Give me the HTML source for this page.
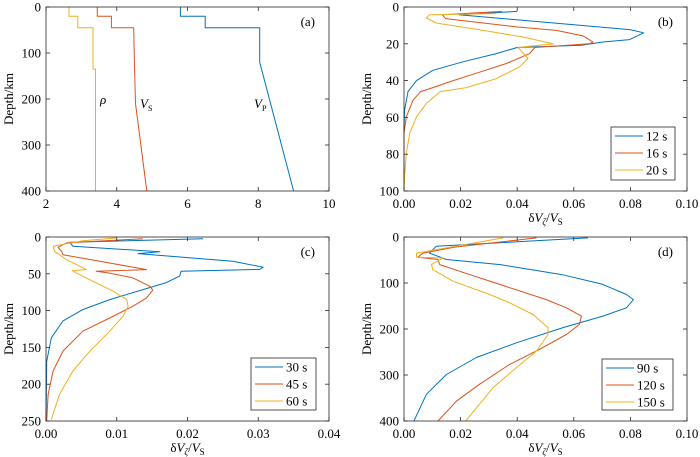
<!DOCTYPE html>
<html><head><meta charset="utf-8"><style>
body{margin:0;background:#fff}
svg{display:block;font-family:"Liberation Serif",serif}
</style></head><body>
<svg id="fig" width="700" height="457" viewBox="0 0 700 457"></svg>
<script>
// ---------- data ----------
// panel a: [value, depth]
const aRho=[[2.65,0],[2.65,20],[2.9,20],[2.9,45],[3.33,45],[3.33,135],[3.40,135],[3.40,400]];
const aVs=[[3.45,0],[3.45,20],[3.85,20],[3.85,45],[4.48,45],[4.50,120],[4.53,210],[4.85,400]];
const aVp=[[5.8,0],[5.8,20],[6.5,20],[6.5,45],[8.04,45],[8.04,120],[9.0,400]];
// panel b
const b12=[[0.040,2.4],[0.0194,4.2],[0.0798,12.3],[0.0847,14],[0.0797,17.7],[0.0703,19],[0.0627,20.8],[0.040,22],[0.0326,25.3],[0.0208,29.8],[0.0102,34.4],[0.0044,40],[0.0014,46],[0.0002,56],[0,65],[0,100]];
const b16=[[0.0347,2.4],[0.0135,4.2],[0.0147,6.3],[0.0397,10.8],[0.0538,12.7],[0.0633,15.7],[0.0668,19],[0.0656,20],[0.0462,22],[0.0444,25.3],[0.0362,30.7],[0.0256,36],[0.016,40.7],[0.0102,43.8],[0.0059,46],[0.0032,50.6],[0.0008,59.7],[0,68.7],[0,100]];
const b20=[[0.0326,3.6],[0.009,4.2],[0.0079,6],[0.0114,8.7],[0.028,12.7],[0.042,16.3],[0.0527,20],[0.0403,22],[0.0438,28],[0.0409,32.5],[0.0326,38.9],[0.022,43.8],[0.0128,46],[0.0079,52.4],[0.0044,59.7],[0.002,68.7],[0.0008,79.6],[0.0002,92],[0,100]];
// panel c
const c30=[[0.0222,2.3],[0.00335,7.2],[0.0038,12.7],[0.0161,20],[0.013,22.6],[0.0264,33],[0.0307,41],[0.0302,44],[0.0191,46.6],[0.0189,53],[0.017,62],[0.0137,71.4],[0.009,85],[0.0052,98.6],[0.0024,114],[0.00075,137],[0.0001,169],[0,250]];
const c45=[[0.0137,2.3],[0.0029,8],[0.0017,14],[0.0022,19.4],[0.0024,24],[0.0076,33],[0.0142,44.3],[0.0071,46.6],[0.009,49],[0.0123,55.6],[0.0147,67],[0.0151,72.3],[0.0142,82.7],[0.0123,94],[0.009,110],[0.0052,128],[0.0024,155],[0.001,182],[0.0003,214],[0.0001,250]];
const c60=[[0.0099,1.4],[0.0052,5],[0.001,12.7],[0.0012,19.4],[0.0029,30.7],[0.0057,44.3],[0.0037,45.7],[0.0043,49],[0.0066,60],[0.0095,73.7],[0.0114,85],[0.0116,94],[0.0109,107.6],[0.009,128],[0.0062,155],[0.0038,182],[0.0019,214],[0.00075,248]];
// panel d
const d90=[[0.065,2],[0.0114,20],[0.009,35],[0.015,49],[0.034,60],[0.056,82],[0.0703,103],[0.0786,125],[0.0811,136],[0.0786,154],[0.0703,172],[0.0562,197],[0.0397,230],[0.0256,262],[0.015,299],[0.0079,342],[0.0035,400]];
const d120=[[0.0468,2],[0.0179,22],[0.0067,35],[0.0049,44],[0.012,49],[0.0126,60],[0.0197,74.5],[0.0338,103],[0.0503,136],[0.0574,154],[0.0627,172],[0.062,190],[0.0574,212],[0.048,244],[0.0373,277],[0.0267,320],[0.0185,357],[0.012,400]];
const d150=[[0.035,2],[0.0044,35],[0.0044,44],[0.0138,45.6],[0.0097,60],[0.0102,71],[0.0173,96],[0.0303,125],[0.0373,143],[0.0456,168.5],[0.0509,197],[0.0509,212],[0.0468,248],[0.0397,284],[0.0314,328],[0.0218,400]];
const xtA=[2,4,6,8,10], ytA=[0,100,200,300,400];
const xtB=["0.00","0.02","0.04","0.06","0.08","0.10"], ytB=[0,20,40,60,80,100];
const xtC=["0.00","0.01","0.02","0.03","0.04"], ytC=[0,50,100,150,200,250];
const xtD=["0.00","0.02","0.04","0.06","0.08","0.10"], ytD=[0,100,200,300,400];
const BLUE="#0072BD",RED="#D95319",YEL="#EDB120";
// ---------- drawing ----------
const NS="http://www.w3.org/2000/svg", svg=document.getElementById('fig');
function mk(t,a,p){const e=document.createElementNS(NS,t);for(const k in a)e.setAttribute(k,a[k]);(p||svg).appendChild(e);return e;}
function panel(name,L,R,T,B,x0,x1,y1,xt,yt,series,leg,lab,xtitle){
  const g=mk('g',{});
  
  
  const sx=v=>L+(v-x0)/(x1-x0)*(R-L), sy=v=>T+v/y1*(B-T);
  series.forEach(s=>{
    const p=mk('polyline',{points:s.d.map(q=>sx(q[0]).toFixed(1)+','+sy(q[1]).toFixed(1)).join(' '),fill:'none',stroke:s.c,'stroke-width':1,'stroke-linejoin':'round'},g);
    
    
  });
  const fr=mk('rect',{x:L,y:T,width:R-L,height:B-T,fill:'none',stroke:'#262626','stroke-width':0.8},g);
  
  
  xt.forEach(t=>{const x=sx(+t);
    mk('line',{x1:x,x2:x,y1:B,y2:B-4,stroke:'#262626','stroke-width':0.8},g);
    mk('line',{x1:x,x2:x,y1:T,y2:T+4,stroke:'#262626','stroke-width':0.8},g);
    const tx=mk('text',{x:x,y:B+17,'text-anchor':'middle','font-size':13,fill:'#000'},g);tx.textContent=t;
    
    });
  yt.forEach(t=>{const y=sy(t);
    mk('line',{x1:L,x2:L+4,y1:y,y2:y,stroke:'#262626','stroke-width':0.8},g);
    mk('line',{x1:R,x2:R-4,y1:y,y2:y,stroke:'#262626','stroke-width':0.8},g);
    const tx=mk('text',{x:L-5,y:y+4.5,'text-anchor':'end','font-size':13,fill:'#000'},g);tx.textContent=t;
    
    });
  const yl=mk('text',{transform:`translate(${L-33},${(T+B)/2}) rotate(-90)`,'text-anchor':'middle','font-size':13},g);yl.textContent='Depth/km';
  
  
  const pl=mk('text',{x:R-14,y:T+19,'text-anchor':'end','font-size':13},g);pl.textContent=lab;
  
  
  if(xtitle){const xl=mk('text',{x:(L+R)/2,y:B+31,'text-anchor':'middle','font-size':13},g);
    xl.innerHTML='δ<tspan font-style="italic">V</tspan><tspan font-size="9" dy="3" font-style="italic">ζ</tspan><tspan dy="-3">/</tspan><tspan font-style="italic">V</tspan><tspan font-size="9" dy="3">S</tspan>';
    
    }
  if(leg){const lg=mk('g',{},g);
    
    
    mk('rect',{x:leg[0],y:leg[1],width:leg[2],height:leg[3],fill:'#fff',stroke:'#262626','stroke-width':0.8},lg);
    series.forEach((s,i)=>{const y=leg[1]+9+i*17;
      mk('line',{x1:leg[0]+4,x2:leg[0]+32,y1:y,y2:y,stroke:s.c,'stroke-width':1},lg);
      const t=mk('text',{x:leg[0]+35,y:y+4.5,'font-size':13},lg);t.textContent=s.n;
      
      });}
  return {sx,sy,g};
}
const pa=panel('panel-a',46,329,7,191,2,10,400,xtA,ytA,[{d:aRho,c:YEL,n:'rho'},{d:aVs,c:RED,n:'vs'},{d:aVp,c:BLUE,n:'vp'}],null,'(a)',false);
[['ρ',100,104,'rho-label'],['V',140,108,'vs-label'],['V',254,108,'vp-label']].forEach((l,i)=>{
  const t=mk('text',{x:l[1],y:l[2],'font-size':13,'font-style':'italic'},pa.g);
  t.innerHTML=l[0]+(i==0?'':'<tspan font-size="8" dy="3" font-style="normal">'+(i==1?'S':'P')+'</tspan>');
  
  
});
panel('panel-b',404,687,7,191,0,0.1,100,xtB,ytB,[{d:b12,c:BLUE,n:'12 s'},{d:b16,c:RED,n:'16 s'},{d:b20,c:YEL,n:'20 s'}],[611,127,64,53],'(b)',true);
panel('panel-c',46,329,237,421,0,0.04,250,xtC,ytC,[{d:c30,c:BLUE,n:'30 s'},{d:c45,c:RED,n:'45 s'},{d:c60,c:YEL,n:'60 s'}],[251,358,65,52],'(c)',true);
panel('panel-d',404,687,237,421,0,0.1,400,xtD,ytD,[{d:d90,c:BLUE,n:'90 s'},{d:d120,c:RED,n:'120 s'},{d:d150,c:YEL,n:'150 s'}],[602,359,71,51],'(d)',true);
</script>
</body></html>
